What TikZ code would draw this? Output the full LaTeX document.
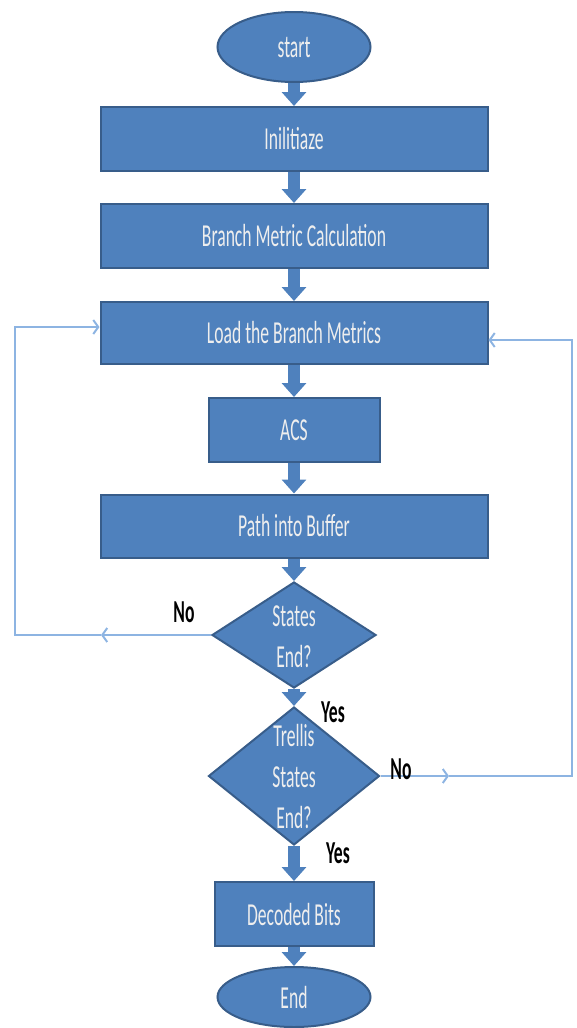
\documentclass[tikz,border=0pt]{standalone}
\usepackage{fontspec}
\newfontfamily\flowfont[FakeStretch=0.55]{Carlito}
\usepackage{tikz}
\usetikzlibrary{arrows.meta,shapes.geometric}
\definecolor{boxblue}{RGB}{79,129,189}
\definecolor{boxedge}{RGB}{56,93,138}
\definecolor{loopblue}{RGB}{141,180,226}
\definecolor{boxtext}{RGB}{238,238,238}

\begin{document}
\begin{tikzpicture}[x=1pt, y=-1pt,
        process/.style = {rectangle, draw=boxedge, fill=boxblue, line width=2pt, text=boxtext,
                          font={\flowfont\fontsize{32}{41}\selectfont}, minimum height=64pt},
        terminal/.style = {process, ellipse, inner sep=0pt},
        decision/.style = {diamond, draw=boxedge, fill=boxblue, line width=2pt, inner sep=0pt},
        dectext/.style = {text=boxtext, align=center, font={\flowfont\fontsize{32}{41}\selectfont}},
        answer/.style = {text=black, font={\flowfont\bfseries\fontsize{32}{41}\selectfont}},
        block/.style = {draw=boxblue, line width=12pt, -{Triangle[width=24pt, length=14pt]}},
        loopline/.style = {draw=loopblue, line width=2pt},
        backtip/.style = {-{Straight Barb[length=5pt, width=14pt]}}]
    \useasboundingbox (0, 0) rectangle (576, 1028);

    \node[terminal, minimum width=153pt, minimum height=70pt] (start) at (294, 47) {start};
    \node[process, minimum width=387pt] (init) at (294, 139) {Inilitiaze};
    \node[process, minimum width=387pt] (bmc) at (294, 236) {Branch Metric Calculation};
    \node[process, minimum width=387pt, minimum height=62pt] (load) at (294, 333) {Load the Branch Metrics};
    \node[process, minimum width=171pt] (acs) at (294, 430) {ACS};
    \node[process, minimum width=387pt, minimum height=63pt] (path) at (294, 526) {Path into Buffer};

    \node[decision, minimum width=164pt, minimum height=106pt] (d1) at (294, 635) {};
    \node[dectext] (d1txt) at (294, 637) {States\\End?};
    \node[decision, minimum width=171pt, minimum height=138pt] (d2) at (294, 776) {};
    \node[dectext] (d2txt) at (294, 776) {Trellis\\States\\End?};

    \node[process, minimum width=159pt] (dec) at (294, 914) {Decoded Bits};
    \node[terminal, minimum width=153pt, minimum height=60pt] (end) at (294, 997) {End};

    % main flow
    \draw[block] (start) -- (init);
    \draw[block] (init) -- (bmc);
    \draw[block] (bmc) -- (load);
    \draw[block] (load) -- (acs);
    \draw[block] (acs) -- (path);
    \draw[block] (path) -- (d1);
    \draw[block] (d1) -- (d2);
    \draw[block] (d2) -- (dec);
    \draw[block] (dec) -- (end);

    % loops back
    \coordinate (lmid) at (101, 635);
    \coordinate (ltop) at (15, 327);
    \draw[loopline, backtip] (d1.west) -- (lmid);
    \draw[loopline, backtip] (lmid) -| (ltop) -- (load.west |- ltop);

    \coordinate (rmid) at (449, 776);
    \coordinate (rtop) at (572, 340);
    \draw[loopline, backtip] (d2.east) -- (rmid);
    \draw[loopline, backtip] (rmid) -| (rtop) -- (load.east |- rtop);

    \node[answer] (no1) at (184, 612) {No};
    \node[answer] (yes1) at (333, 712) {Yes};
    \node[answer] (no2) at (401, 769) {No};
    \node[answer] (yes2) at (338, 853) {Yes};
\end{tikzpicture}
\end{document}
